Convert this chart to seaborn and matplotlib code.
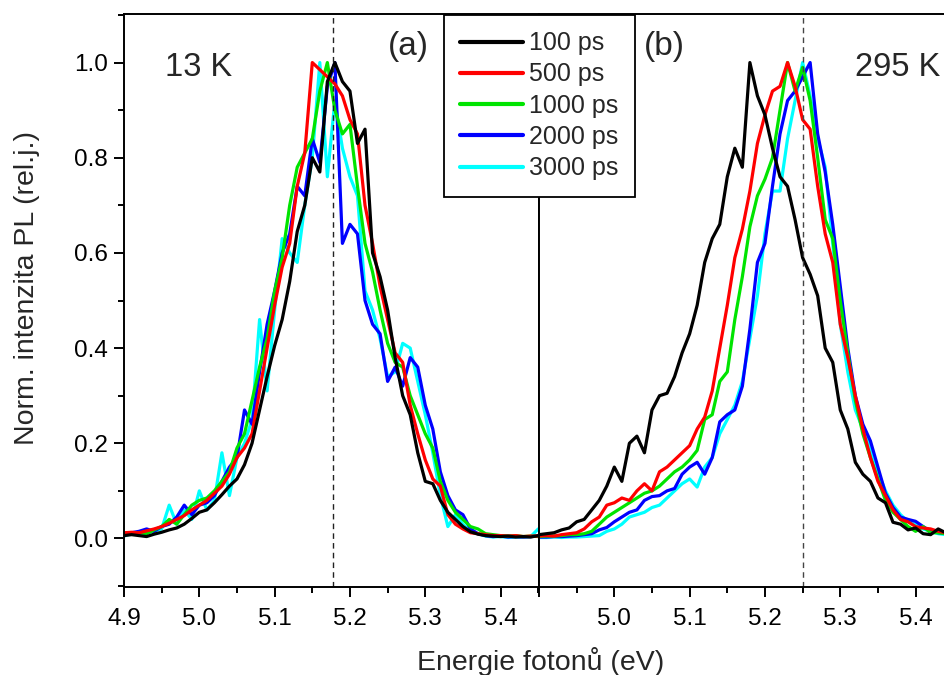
import numpy as np
import pandas as pd
import matplotlib
matplotlib.use("Agg")
import matplotlib.pyplot as plt
import seaborn as sns

# ---------------- data ----------------
energy = [round(4.90 + 0.01 * i, 2) for i in range(56)]  # 4.90 ... 5.45 eV
series_labels = ["100 ps", "500 ps", "1000 ps", "2000 ps", "3000 ps"]
series_colors = ["#000000", "#FF0000", "#00E400", "#0000FF", "#00FFFF"]

# (a) 13 K
k13_100 = [0.006, 0.008, 0.006, 0.004, 0.009, 0.013, 0.018, 0.022, 0.030, 0.042,
           0.055, 0.060, 0.075, 0.092, 0.110, 0.125, 0.155, 0.200, 0.270, 0.340,
           0.405, 0.460, 0.540, 0.645, 0.700, 0.800, 0.770, 0.960, 1.000, 0.960,
           0.940, 0.830, 0.860, 0.600, 0.550, 0.480, 0.380, 0.300, 0.260, 0.180,
           0.120, 0.115, 0.080, 0.055, 0.040, 0.025, 0.014, 0.009, 0.006, 0.005,
           0.004, 0.005, 0.003, 0.004, 0.003, 0.006]
k13_500 = [0.012, 0.013, 0.012, 0.016, 0.020, 0.025, 0.032, 0.040, 0.048, 0.060,
           0.070, 0.080, 0.095, 0.110, 0.135, 0.170, 0.190, 0.220, 0.310, 0.400,
           0.490, 0.570, 0.620, 0.740, 0.810, 1.000, 0.985, 0.970, 0.955, 0.930,
           0.880, 0.850, 0.700, 0.620, 0.530, 0.460, 0.390, 0.370, 0.280, 0.220,
           0.165, 0.125, 0.110, 0.050, 0.030, 0.020, 0.012, 0.010, 0.008, 0.006,
           0.006, 0.005, 0.006, 0.004, 0.005, 0.005]
k13_1000 = [0.008, 0.010, 0.012, 0.010, 0.018, 0.025, 0.040, 0.030, 0.050, 0.070,
            0.080, 0.085, 0.100, 0.120, 0.140, 0.190, 0.220, 0.290, 0.360, 0.420,
            0.520, 0.590, 0.700, 0.780, 0.810, 0.840, 0.940, 1.000, 0.900, 0.850,
            0.870, 0.740, 0.620, 0.560, 0.480, 0.410, 0.370, 0.360, 0.300, 0.260,
            0.220, 0.190, 0.120, 0.080, 0.055, 0.040, 0.025, 0.020, 0.010, 0.008,
            0.006, 0.005, 0.006, 0.004, 0.005, 0.004]
k13_2000 = [0.010, 0.012, 0.015, 0.020, 0.015, 0.025, 0.030, 0.045, 0.070, 0.050,
            0.070, 0.075, 0.090, 0.120, 0.150, 0.170, 0.270, 0.240, 0.350, 0.450,
            0.520, 0.600, 0.640, 0.740, 0.720, 0.840, 0.790, 0.950, 1.000, 0.620,
            0.660, 0.640, 0.500, 0.450, 0.430, 0.330, 0.360, 0.320, 0.380, 0.360,
            0.280, 0.230, 0.140, 0.090, 0.060, 0.050, 0.020, 0.010, 0.006, 0.004,
            0.005, 0.003, 0.004, 0.003, 0.004, 0.005]
k13_3000 = [0.005, 0.010, 0.008, 0.012, 0.015, 0.020, 0.070, 0.030, 0.060, 0.040,
            0.100, 0.060, 0.080, 0.180, 0.090, 0.170, 0.200, 0.250, 0.460, 0.310,
            0.480, 0.630, 0.600, 0.580, 0.700, 0.800, 1.000, 0.760, 0.920, 0.820,
            0.760, 0.720, 0.520, 0.480, 0.420, 0.340, 0.350, 0.410, 0.400, 0.330,
            0.260, 0.180, 0.090, 0.025, 0.050, 0.030, 0.015, 0.010, 0.005, 0.003,
            0.004, 0.002, 0.003, 0.003, 0.004, 0.020]

# (b) 295 K
k295_100 = [0.008, 0.010, 0.012, 0.018, 0.022, 0.035, 0.040, 0.060, 0.080, 0.110,
            0.150, 0.120, 0.200, 0.215, 0.180, 0.270, 0.300, 0.305, 0.340, 0.390,
            0.430, 0.490, 0.580, 0.630, 0.660, 0.760, 0.820, 0.780, 1.000, 0.930,
            0.890, 0.820, 0.760, 0.740, 0.670, 0.590, 0.555, 0.510, 0.400, 0.370,
            0.270, 0.230, 0.160, 0.135, 0.120, 0.085, 0.075, 0.034, 0.030, 0.018,
            0.022, 0.010, 0.008, 0.020, 0.012, 0.010]
k295_500 = [0.005, 0.006, 0.005, 0.008, 0.010, 0.012, 0.020, 0.035, 0.045, 0.070,
            0.075, 0.085, 0.080, 0.100, 0.115, 0.100, 0.140, 0.150, 0.165, 0.180,
            0.195, 0.230, 0.255, 0.310, 0.400, 0.490, 0.590, 0.650, 0.730, 0.830,
            0.890, 0.940, 0.950, 1.000, 0.950, 0.880, 0.860, 0.740, 0.640, 0.580,
            0.450, 0.380, 0.300, 0.230, 0.170, 0.120, 0.090, 0.060, 0.040, 0.035,
            0.025, 0.022, 0.020, 0.015, 0.012, 0.010]
k295_1000 = [0.004, 0.005, 0.005, 0.006, 0.008, 0.008, 0.010, 0.015, 0.030, 0.045,
             0.055, 0.065, 0.075, 0.085, 0.095, 0.100, 0.110, 0.125, 0.140, 0.150,
             0.165, 0.185, 0.250, 0.260, 0.330, 0.350, 0.460, 0.550, 0.655, 0.720,
             0.755, 0.800, 0.900, 1.000, 0.940, 0.990, 0.920, 0.800, 0.670, 0.630,
             0.500, 0.390, 0.290, 0.220, 0.170, 0.125, 0.080, 0.055, 0.040, 0.025,
             0.015, 0.025, 0.012, 0.012, 0.010, 0.008]
k295_2000 = [0.003, 0.003, 0.004, 0.004, 0.005, 0.006, 0.008, 0.010, 0.018, 0.023,
             0.035, 0.045, 0.055, 0.060, 0.080, 0.088, 0.090, 0.100, 0.105, 0.135,
             0.150, 0.160, 0.135, 0.170, 0.245, 0.260, 0.270, 0.320, 0.440, 0.580,
             0.620, 0.740, 0.850, 0.920, 0.940, 0.970, 1.000, 0.850, 0.770, 0.660,
             0.530, 0.400, 0.300, 0.240, 0.205, 0.150, 0.095, 0.065, 0.045, 0.040,
             0.036, 0.025, 0.015, 0.012, 0.010, 0.008]
k295_3000 = [0.002, 0.002, 0.003, 0.002, 0.003, 0.003, 0.004, 0.005, 0.006, 0.015,
             0.020, 0.030, 0.045, 0.050, 0.055, 0.065, 0.070, 0.085, 0.100, 0.115,
             0.125, 0.108, 0.150, 0.170, 0.220, 0.250, 0.280, 0.330, 0.420, 0.510,
             0.640, 0.730, 0.730, 0.840, 0.920, 1.000, 0.930, 0.840, 0.780, 0.620,
             0.450, 0.350, 0.270, 0.230, 0.190, 0.140, 0.100, 0.070, 0.050, 0.035,
             0.030, 0.020, 0.015, 0.010, 0.008, 0.008]

panel_a = [k13_100, k13_500, k13_1000, k13_2000, k13_3000]
panel_b = [k295_100, k295_500, k295_1000, k295_2000, k295_3000]

x_ticks = [4.9, 5.0, 5.1, 5.2, 5.3, 5.4]
y_ticks = [0.0, 0.2, 0.4, 0.6, 0.8, 1.0]
peak_a = 5.178
peak_b = 5.251


def long_frame(panel):
    rows = []
    for lab, vals in zip(series_labels, panel):
        for e, v in zip(energy, vals):
            rows.append((e, v, lab))
    return pd.DataFrame(rows, columns=["E", "I", "delay"])


df_a = long_frame(panel_a)
df_b = long_frame(panel_b)

# ---------------- style ----------------
sns.set_theme(style="ticks")
plt.rcParams["font.family"] = ["Liberation Sans", "DejaVu Sans"]
plt.rcParams["axes.linewidth"] = 1.4

W, H = 945, 675
fig = plt.figure(figsize=(W / 100, H / 100), dpi=100)
ax_a = fig.add_axes([124 / W, 1 - 587 / H, 415 / W, 573 / H])
ax_b = fig.add_axes([539 / W, 1 - 587 / H, 415 / W, 573 / H])

palette = dict(zip(series_labels, series_colors))
draw_order = series_labels[::-1]  # 3000 ps first, 100 ps on top

for ax, df in ((ax_a, df_a), (ax_b, df_b)):
    for lab in draw_order:
        sub = df[df["delay"] == lab]
        sns.lineplot(data=sub, x="E", y="I", ax=ax, color=palette[lab],
                     lw=2.3, label=lab, legend=False, estimator=None)
    ax.set_xlim(4.9, 5.451)
    ax.set_ylim(-0.102, 1.102)
    ax.set_xlabel("")
    ax.set_ylabel("")
    ax.set_xticks(x_ticks)
    ax.set_xticks(np.arange(4.95, 5.46, 0.1), minor=True)
    for s in ax.spines.values():
        s.set_color("black")
        s.set_linewidth(1.4)
    ax.tick_params(axis="x", which="major", direction="out", length=7.5, width=1.4,
                   labelsize=17.5, pad=7.5, colors="black")
    ax.tick_params(axis="x", which="minor", direction="out", length=4, width=1.4,
                   colors="black")

ax_a.set_xticklabels([f"{t:.1f}" for t in x_ticks])
ax_b.set_xticklabels([""] + [f"{t:.1f}" for t in x_ticks[1:]])

ax_a.set_yticks(y_ticks)
ax_a.set_yticks(np.arange(-0.1, 1.11, 0.2), minor=True)
ax_a.set_yticklabels([f"{t:.1f}" for t in y_ticks])
ax_a.tick_params(axis="y", which="major", direction="out", length=7.5, width=1.4,
                 labelsize=17.5, pad=4, colors="black")
ax_a.tick_params(axis="y", which="minor", direction="out", length=4, width=1.4,
                 colors="black")
ax_b.tick_params(axis="y", which="both", left=False, labelleft=False)

ax_a.axvline(peak_a, color="#222222", lw=1.0, ls=(0, (4, 3)))
ax_b.axvline(peak_b, color="#444444", lw=1.0, ls=(0, (4, 3)))

ax_a.text(4.954, 0.99, "13 K", fontsize=23.5, ha="left", va="center")
ax_a.text(5.278, 1.034, "(a)", fontsize=24, ha="center", va="center")
ax_b.text(5.067, 1.034, "(b)", fontsize=24, ha="center", va="center")
ax_b.text(5.32, 0.99, "295 K", fontsize=23.5, ha="left", va="center")

# legend in original order
handles = {l.get_label(): l for l in ax_a.get_lines() if l.get_label() in series_labels}
leg = fig.legend([handles[l] for l in series_labels], series_labels,
                 loc="upper left", bbox_to_anchor=(444 / W, 1 - 15 / H),
                 fontsize=18, frameon=True, fancybox=False, framealpha=1,
                 edgecolor="black", handlelength=2.5, handletextpad=0.25,
                 labelspacing=0.29, borderpad=0.65, borderaxespad=0)
leg.get_frame().set_linewidth(1.3)
for lh in leg.get_lines():
    lh.set_linewidth(3)

fig.text(541 / W, 1 - 661 / H, "Energie fotonů (eV)", fontsize=20.5,
         ha="center", va="center")
fig.text(27 / W, 1 - 288 / H, "Norm. intenzita PL (rel.j.)", fontsize=20.5,
         ha="center", va="center", rotation=90)

fig.savefig("out.png", dpi=100)
